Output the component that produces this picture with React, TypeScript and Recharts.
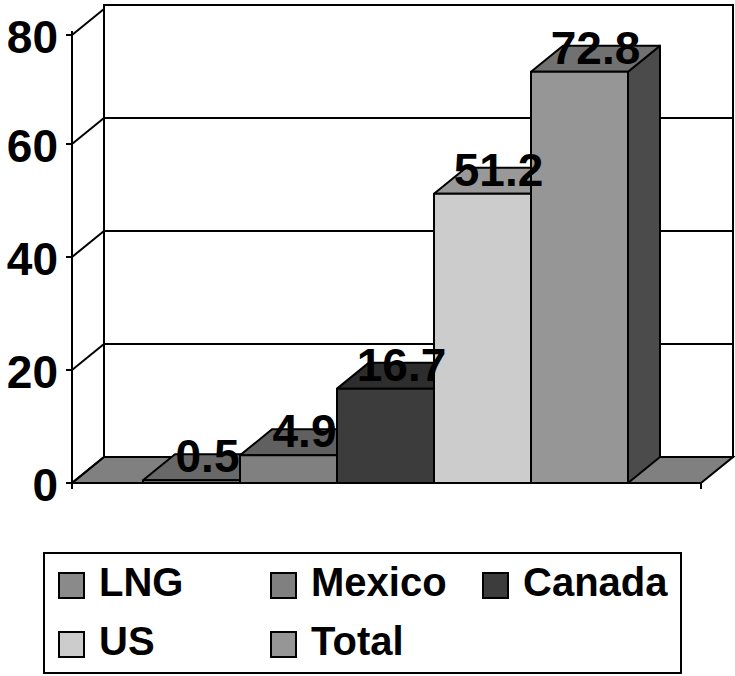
import {
  Bar,
  BarChart,
  CartesianGrid,
  LabelList,
  Legend,
  ReferenceArea,
  XAxis,
  YAxis,
} from "recharts";

const categories = ["LNG", "Mexico", "Canada", "US", "Total"];
const values = [0.5, 4.9, 16.7, 51.2, 72.8];
const fills = ["#8a8a8a", "#808080", "#3c3c3c", "#cccccc", "#969696"];
const yTicks = [0, 20, 40, 60, 80];

const data = categories.map((name, i) => ({ name, value: values[i] }));

// depth of the fake 3d box
const DX = 32;
const DY = 26;
const FONT = '"Liberation Sans", Arial, sans-serif';

function shade(hex: string, k: number): string {
  const n = parseInt(hex.slice(1), 16);
  const r = Math.round(((n >> 16) & 255) * k);
  const g = Math.round(((n >> 8) & 255) * k);
  const b = Math.round((n & 255) * k);
  return `rgb(${r},${g},${b})`;
}

function Bar3D(props: any) {
  const { x, y, width, height, index } = props;
  if (x == null || y == null) return null;
  const fill = fills[index] ?? "#888";
  const fx = x - DX;
  const fy = y + DY;
  return (
    <g stroke="#000" strokeWidth={2} strokeLinejoin="round">
      <polygon
        points={`${fx + width},${fy} ${x + width},${y} ${x + width},${y + height} ${fx + width},${fy + height}`}
        fill={shade(fill, 0.5)}
      />
      <polygon
        points={`${fx},${fy} ${fx + width},${fy} ${x + width},${y} ${x},${y}`}
        fill={shade(fill, 0.75)}
      />
      <rect x={fx} y={fy} width={width} height={height} fill={fill} />
    </g>
  );
}

function ValueLabel(props: any) {
  const vb = props.viewBox ?? props;
  const { x, y, width } = vb;
  if (x == null || y == null) return null;
  return (
    <text
      x={x + width / 2 - DX / 2}
      y={y + DY - 8}
      textAnchor="middle"
      fontFamily={FONT}
      fontWeight="bold"
      fontSize={46}
      fill="#000"
    >
      {props.value}
    </text>
  );
}

function BackWall(props: any) {
  const { x, y, width, height } = props;
  const bottom = y + height;
  return (
    <g stroke="#000" strokeWidth={2} fill="none">
      <rect x={x} y={y} width={width} height={height} fill="none" />
      <polygon
        points={`${x},${bottom} ${x + width},${bottom} ${x + width - DX},${bottom + DY} ${x - DX},${bottom + DY}`}
        fill="#808080"
      />
      <line x1={x - DX} y1={y + DY} x2={x - DX} y2={bottom + DY + 6} />
      <line x1={x + width - DX} y1={bottom + DY} x2={x + width - DX} y2={bottom + DY + 6} />
    </g>
  );
}

function YTick(props: any) {
  const { x, y, payload } = props;
  const fx = x - DX;
  const fy = y + DY;
  return (
    <g>
      <line x1={x} y1={y} x2={fx} y2={fy} stroke="#000" strokeWidth={2} />
      <line x1={fx - 6} y1={fy} x2={fx} y2={fy} stroke="#000" strokeWidth={2} />
      <text
        x={fx - 14}
        y={fy + 18}
        textAnchor="end"
        fontFamily={FONT}
        fontWeight="bold"
        fontSize={46}
        fill="#000"
      >
        {payload.value}
      </text>
    </g>
  );
}

function LegendBox() {
  return (
    <div
      style={{
        boxSizing: "border-box",
        width: 639,
        height: 122,
        border: "2px solid #000",
        background: "#fff",
        position: "relative",
        fontFamily: FONT,
        fontWeight: "bold",
        fontSize: 40,
        lineHeight: 1,
      }}
    >
      {categories.map((name, i) => (
        <div
          key={name}
          style={{
            position: "absolute",
            left: 13 + (i % 3) * 212,
            top: 17 + Math.floor(i / 3) * 59,
            display: "flex",
            alignItems: "center",
            height: 28,
            whiteSpace: "nowrap",
          }}
        >
          <span
            style={{
              boxSizing: "border-box",
              width: 27,
              height: 27,
              border: "2px solid #000",
              background: fills[i],
              display: "inline-block",
            }}
          />
          <span style={{ marginLeft: 14, position: "relative", top: -3 }}>{name}</span>
        </div>
      ))}
    </div>
  );
}

export default function App() {
  return (
    <div style={{ position: "absolute", left: 0, top: 0 }}>
      <BarChart
        width={735}
        height={676}
        data={data}
        margin={{ top: 5, right: 2, left: 0, bottom: 219 }}
        barCategoryGap={0}
        barGap={0}
      >
        <CartesianGrid vertical={false} stroke="#000" strokeWidth={2} />
        <XAxis dataKey="name" hide padding={{ left: 71, right: 73 }} />
        <XAxis xAxisId="wall" dataKey="name" hide />
        <YAxis
          width={104}
          domain={[0, 80]}
          ticks={yTicks}
          axisLine={false}
          tickLine={false}
          tickSize={0}
          tickMargin={0}
          tick={YTick}
        />
        <ReferenceArea
          xAxisId="wall"
          y1={0}
          y2={80}
          ifOverflow="visible"
          shape={BackWall}
          zIndex={-10}
        />
        <Legend
          verticalAlign="middle"
          align="center"
          layout="horizontal"
          wrapperStyle={{ top: 552, left: 43, width: 639, height: 122 }}
          content={LegendBox}
        />
        <Bar dataKey="value" shape={Bar3D} isAnimationActive={false}>
          <LabelList dataKey="value" content={ValueLabel} />
        </Bar>
      </BarChart>
    </div>
  );
}
